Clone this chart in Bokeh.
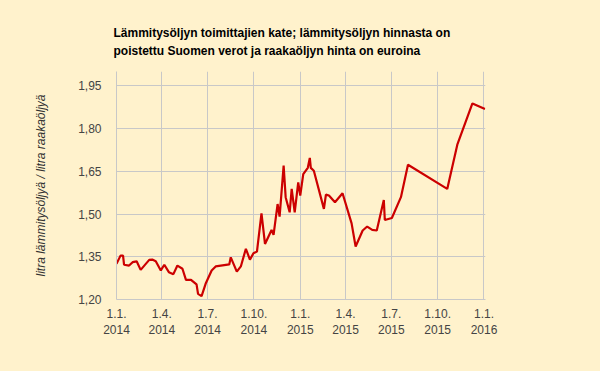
import pandas as pd
from bokeh.plotting import figure
from bokeh.models import FixedTicker, CustomJSTickFormatter, Range1d, ColumnDataSource
from bokeh.embed import file_html
from bokeh.resources import INLINE

dates = ["2014-01-01", "2014-01-09", "2014-01-14", "2014-01-16", "2014-01-26", "2014-02-02",
         "2014-02-10", "2014-02-18", "2014-03-07", "2014-03-13", "2014-03-20", "2014-03-30",
         "2014-04-06", "2014-04-15", "2014-04-24", "2014-05-02", "2014-05-12", "2014-05-19",
         "2014-05-29", "2014-06-09", "2014-06-12", "2014-06-19", "2014-06-27", "2014-07-09",
         "2014-07-17", "2014-08-13", "2014-08-16", "2014-08-28", "2014-09-05", "2014-09-15",
         "2014-09-23", "2014-09-30", "2014-10-07", "2014-10-16", "2014-10-23", "2014-11-05",
         "2014-11-09", "2014-11-17", "2014-11-21", "2014-11-29", "2014-12-03", "2014-12-11",
         "2014-12-15", "2014-12-21", "2014-12-28", "2015-01-01", "2015-01-07", "2015-01-16",
         "2015-01-20", "2015-01-22", "2015-01-28", "2015-02-17", "2015-02-21", "2015-02-27",
         "2015-03-11", "2015-03-26", "2015-04-13", "2015-04-21", "2015-05-05", "2015-05-14",
         "2015-05-24", "2015-06-02", "2015-06-16", "2015-06-18", "2015-07-02", "2015-07-20",
         "2015-08-03", "2015-10-20", "2015-11-09", "2015-12-09", "2016-01-03"]
values = [1.325, 1.354, 1.354, 1.322, 1.319, 1.331,
          1.334, 1.304, 1.339, 1.340, 1.334, 1.302,
          1.322, 1.296, 1.289, 1.319, 1.308, 1.269,
          1.269, 1.253, 1.220, 1.212, 1.255, 1.302,
          1.316, 1.323, 1.348, 1.298, 1.316, 1.378,
          1.340, 1.362, 1.368, 1.502, 1.395, 1.444,
          1.427, 1.535, 1.491, 1.670, 1.559, 1.506,
          1.588, 1.506, 1.611, 1.565, 1.640, 1.662,
          1.697, 1.662, 1.652, 1.518, 1.568, 1.565,
          1.541, 1.573, 1.467, 1.386, 1.442, 1.456,
          1.444, 1.442, 1.549, 1.479, 1.486, 1.559,
          1.673, 1.588, 1.743, 1.888, 1.868]

x_ticks = ["2014-01-01", "2014-04-01", "2014-07-01", "2014-10-01", "2015-01-01",
           "2015-04-01", "2015-07-01", "2015-10-01", "2016-01-01"]
y_ticks = [1.20, 1.35, 1.50, 1.65, 1.80, 1.95]

title_lines = ["Lämmitysöljyn toimittajien kate; lämmitysöljyn hinnasta on",
               "poistettu Suomen verot ja raakaöljyn hinta on euroina"]
y_label = "litra lämmitysöljyä / litra raakaöljyä"

BG = "#fff2cc"
FONT = "Liberation Sans"

def ms(d):
    return pd.Timestamp(d).value / 1e6

src = ColumnDataSource(dict(x=[ms(d) for d in dates], y=values))

p = figure(width=600, height=371, output_backend="svg", toolbar_location=None,
           title="\n".join(title_lines),
           x_range=Range1d(ms("2014-01-01"), ms("2016-01-04")),
           y_range=Range1d(1.20, 2.00),
           min_border_left=116, min_border_right=115, min_border_top=71, min_border_bottom=72)
p.background_fill_color = BG
p.border_fill_color = BG
p.outline_line_color = None

p.line("x", "y", source=src, line_color="#cc0000", line_width=2.2)

xa = p.xaxis[0]
xa.ticker = FixedTicker(ticks=[ms(d) for d in x_ticks])
xa.formatter = CustomJSTickFormatter(code="""
const d = new Date(tick);
return d.getUTCDate() + "." + (d.getUTCMonth()+1) + ".\\n" + d.getUTCFullYear();
""")
ya = p.yaxis[0]
ya.ticker = FixedTicker(ticks=y_ticks)
ya.formatter = CustomJSTickFormatter(code="return tick.toFixed(2).replace('.', ',');")

for ax in (xa, ya):
    ax.axis_line_color = "#c8c8c8"
    ax.major_tick_line_color = None
    ax.minor_tick_line_color = None
    ax.major_label_text_font = FONT
    ax.major_label_text_font_size = "12px"
    ax.major_label_text_color = "#444444"
xa.major_label_standoff = 1
ya.major_label_standoff = 9

ya.axis_label = y_label
ya.axis_label_text_font = FONT
ya.axis_label_text_font_size = "12px"
ya.axis_label_text_font_style = "italic"
ya.axis_label_text_color = "#333333"
ya.axis_label_standoff = 27

p.xgrid[0].ticker = FixedTicker(ticks=[ms(d) for d in x_ticks])
p.ygrid[0].ticker = FixedTicker(ticks=y_ticks)
for g in (p.xgrid[0], p.ygrid[0]):
    g.grid_line_color = "#c8c8c8"
    g.grid_line_width = 1

t = p.title
t.align = "left"
t.offset = -3
t.text_font = FONT
t.text_font_size = "12px"
t.text_font_style = "bold"
t.text_color = "#000000"
t.text_line_height = 1.3
t.standoff = 27

html = file_html(p, INLINE)
html = html.replace("<head>", "<head><style>body{background:#fff2cc;}</style>", 1)
open("out.html", "w").write(html)
